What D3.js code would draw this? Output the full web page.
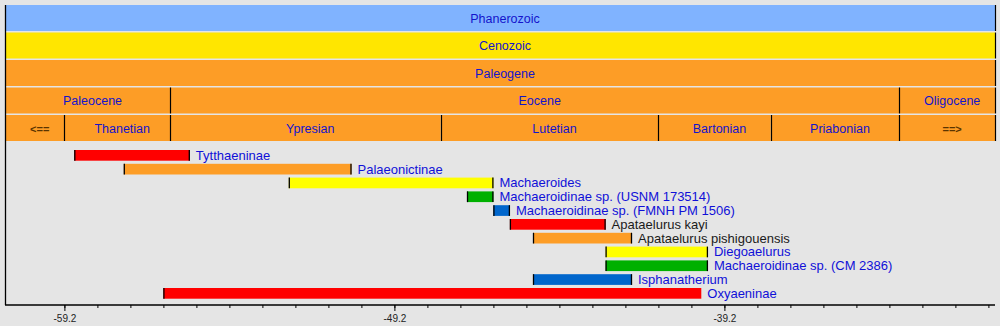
<!DOCTYPE html>
<html>
<head>
<meta charset="utf-8">
<script src="https://cdn.jsdelivr.net/npm/d3@7"></script>
<style>
  html, body { margin: 0; padding: 0; background: #e5e5e5; }
  svg { display: block; font-family: "Liberation Sans", Arial, sans-serif; }
</style>
</head>
<body>
<svg id="chart" width="1000" height="326"></svg>
<script>
// ---- data ----
const domainMa = [-61, -31];

const eonNames = ["Phanerozoic"];
const eonBounds = [[-61, -31]];
const eraNames = ["Cenozoic"];
const eraBounds = [[-61, -31]];
const periodNames = ["Paleogene"];
const periodBounds = [[-61, -31]];
const epochNames = ["Paleocene", "Eocene", "Oligocene"];
const epochBounds = [[-61, -56.0], [-56.0, -33.9], [-33.9, -31]];
const stageNames = ["<==", "Thanetian", "Ypresian", "Lutetian", "Bartonian", "Priabonian", "==>"];
const stageBounds = [[-61, -59.2], [-59.2, -56.0], [-56.0, -47.8], [-47.8, -41.2], [-41.2, -37.8], [-37.8, -33.9], [-33.9, -31]];

const taxa = ["Tytthaeninae", "Palaeonictinae", "Machaeroides",
  "Machaeroidinae sp. (USNM 173514)", "Machaeroidinae sp. (FMNH PM 1506)",
  "Apataelurus kayi", "Apataelurus pishigouensis", "Diegoaelurus",
  "Machaeroidinae sp. (CM 2386)", "Isphanatherium", "Oxyaeninae"];
const startMa = [-58.9, -57.4, -52.4, -47.0, -46.2, -45.7, -45.0, -42.8, -42.8, -45.0, -56.2];
const endMa   = [-55.4, -50.5, -46.2, -46.2, -45.7, -42.8, -42.0, -39.7, -39.7, -42.0, -39.9];
const linked  = [true, true, true, true, true, false, false, true, true, true, true];
const closedEnd = [true, true, true, true, true, true, true, true, true, true, false];

const majorTicks = [-59.2, -49.2, -39.2];
const minorTicks = [-59.2, -58.2, -57.2, -56.2, -55.2, -54.2, -53.2, -52.2, -51.2, -50.2,
  -49.2, -48.2, -47.2, -46.2, -45.2, -44.2, -43.2, -42.2, -41.2, -40.2,
  -39.2, -38.2, -37.2, -36.2, -35.2, -34.2, -33.2, -32.2, -31.2];

// ---- styles ----
const rowColors = ["#80b3ff", "#ffe600", "#fd9d26", "#fd9d26", "#fd9d26"];
const barColors = ["#ff0000", "#fd9d26", "#ffff00", "#00b000", "#0066cc"];
const headerText = "#1414cc";
const linkText = "#1010d8";

const svg = d3.select("#chart");
const x = d3.scaleLinear().domain(domainMa).range([5, 995]);

// header rows
const rows = [
  {names: eonNames, bounds: eonBounds},
  {names: eraNames, bounds: eraBounds},
  {names: periodNames, bounds: periodBounds},
  {names: epochNames, bounds: epochBounds},
  {names: stageNames, bounds: stageBounds}
];
const rowY0 = 5, rowStep = 27.5, rowH = 26;

rows.forEach((row, ri) => {
  const y0 = rowY0 + ri * rowStep;
  const g = svg.append("g");
  const cells = row.names.map((n, i) => ({name: n, a: row.bounds[i][0], b: row.bounds[i][1]}));
  g.selectAll("rect").data(cells).join("rect")
    .attr("x", d => x(d.a)).attr("y", y0)
    .attr("width", d => x(d.b) - x(d.a)).attr("height", rowH)
    .attr("fill", rowColors[ri]);
  g.selectAll("text").data(cells).join("text")
    .attr("x", d => (x(d.a) + x(d.b)) / 2 + 5)
    .attr("y", y0 + rowH / 2 + 4.5)
    .attr("text-anchor", "middle")
    .attr("font-size", d => (d.name === "<==" || d.name === "==>") ? 11 : 12.5)
    .attr("font-weight", d => (d.name === "<==" || d.name === "==>") ? "bold" : "normal")
    .attr("fill", d => (d.name === "<==" || d.name === "==>") ? "#5a3400" : headerText)
    .text(d => d.name);
  // dividers
  const divs = [];
  cells.forEach((d, i) => { if (i > 0) divs.push(d.a); });
  divs.push(domainMa[1]);
  g.selectAll("line").data(divs).join("line")
    .attr("x1", d => Math.round(x(d)) + 0.5).attr("x2", d => Math.round(x(d)) + 0.5)
    .attr("y1", y0).attr("y2", y0 + rowH)
    .attr("stroke", "#000").attr("stroke-width", 1.2);
});

// bars
const y = d3.scaleBand().domain(taxa).range([150, 150 + 13.8 * (taxa.length - 0.225)])
  .paddingInner(0.225).paddingOuter(0);
const bars = taxa.map((t, i) => ({name: t, s: startMa[i], e: endMa[i], i, link: linked[i], closed: closedEnd[i]}));
const bg = svg.append("g");
bg.selectAll("rect").data(bars).join("rect")
  .attr("x", d => x(d.s)).attr("y", d => y(d.name))
  .attr("width", d => x(d.e) - x(d.s)).attr("height", y.bandwidth())
  .attr("fill", d => barColors[d.i % 5]);
bg.selectAll("line.s").data(bars).join("line").attr("class", "s")
  .attr("x1", d => x(d.s) + 0.5).attr("x2", d => x(d.s) + 0.5)
  .attr("y1", d => y(d.name)).attr("y2", d => y(d.name) + y.bandwidth())
  .attr("stroke", "#000").attr("stroke-width", 1.3);
bg.selectAll("line.e").data(bars.filter(d => d.closed)).join("line").attr("class", "e")
  .attr("x1", d => x(d.e) - 0.5).attr("x2", d => x(d.e) - 0.5)
  .attr("y1", d => y(d.name)).attr("y2", d => y(d.name) + y.bandwidth())
  .attr("stroke", "#000").attr("stroke-width", 1.3);
bg.selectAll("text").data(bars).join("text")
  .attr("x", d => x(d.e) + 6)
  .attr("y", d => y(d.name) + y.bandwidth() / 2 + 4.5)
  .attr("font-size", 13)
  .attr("fill", d => d.link ? linkText : "#1a1a1a")
  .text(d => d.name);

// axis
const axisY = 305;
const ax = svg.append("g").attr("transform", `translate(0,${axisY})`);
ax.append("line").attr("x1", x(domainMa[0])).attr("x2", x(domainMa[1]))
  .attr("y1", 0).attr("y2", 0).attr("stroke", "#000").attr("stroke-width", 1.3);
ax.call(g => {
  const minor = d3.axisBottom(x).tickValues(minorTicks).tickSize(3).tickFormat("");
  const gm = g.append("g").call(minor);
  gm.select(".domain").remove();
  const major = d3.axisBottom(x).tickValues(majorTicks).tickSize(6).tickPadding(4)
    .tickFormat(d3.format(".1f"));
  const gM = g.append("g").call(major);
  gM.select(".domain").remove();
  gM.selectAll("text").attr("font-size", 10).attr("fill", "#222")
    .attr("font-family", "\"Liberation Sans\", Arial, sans-serif")
    .text(d => d3.format(".1f")(d).replace("−", "-"));
});
// left vertical line
svg.append("line").attr("x1", 5.5).attr("x2", 5.5).attr("y1", 5).attr("y2", axisY)
  .attr("stroke", "#000").attr("stroke-width", 1.3);
</script>
</body>
</html>
